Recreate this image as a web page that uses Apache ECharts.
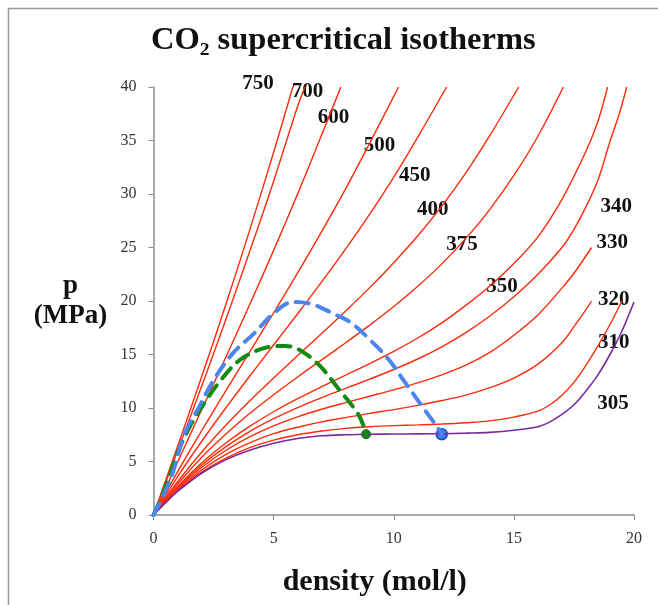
<!DOCTYPE html>
<head>
    <meta charset="utf-8"/>
    <style>
        html,body { height:100%; width:100%; margin:0; padding:0; background:#fff; }
    </style>
</head>
<body>
<div id="chart" style="width:658px;height:605px;"></div>
<script src="https://cdn.jsdelivr.net/npm/echarts@6/dist/echarts.min.js"></script>
<script type="text/javascript">

// isotherms: [density mol/l, pressure MPa]
var iso305 = [[0,0],[0.5,1.15],[1,2.2],[2,3.9],[3,5.15],[4,6.05],[5,6.7],[6,7.15],[7,7.4],[8,7.5],[9,7.55],[10,7.57],[11,7.58],[12,7.6],[13,7.65],[14,7.72],[15,7.92],[16,8.25],[16.5,8.7],[17,9.4],[17.5,10.3],[18,11.6],[18.5,13.1],[19,15],[19.5,17.2],[20,19.9]];
var iso310 = [[0,0],[0.5,1.16],[1,2.25],[2,4.0],[3,5.3],[4,6.3],[5,7.0],[6,7.5],[7,7.85],[8,8.1],[9,8.25],[10,8.35],[11,8.42],[12,8.5],[13,8.62],[14,8.8],[15,9.15],[16,9.7],[16.5,10.3],[17,11.2],[17.5,12.4],[18,14.0],[18.5,15.8],[19,17.8],[19.5,20.0]];
var iso320 = [[0,0],[0.5,1.2],[1,2.35],[2,4.2],[3,5.65],[4,6.75],[5,7.6],[6,8.2],[7,8.7],[8,9.1],[9,9.5],[10,9.85],[11,10.25],[12,10.7],[13,11.2],[14,11.9],[15,12.8],[16,14.1],[17,16.1],[17.5,17.6],[18,19.2],[18.23,20]];
var iso330 = [[0,0],[0.5,1.25],[1,2.46],[2,4.44],[3,6.03],[4,7.3],[5,8.33],[6,9.17],[7,9.88],[8,10.5],[9,11.1],[10,11.7],[11,12.35],[12,13.1],[13,14.0],[14,15.2],[15,16.8],[16,18.7],[17,21.2],[17.6,22.9],[18.23,25]];
var iso340 = [[0,0],[0.5,1.3],[1,2.56],[2,4.65],[3,6.37],[4,7.8],[5,9.0],[6,10.04],[7,10.97],[8,11.84],[9,12.7],[10,13.6],[11,14.58],[12,15.72],[13,17.05],[14,18.6],[15,20.4],[16,22.5],[17,25.0],[17.5,26.7],[18,28.8],[18.5,31.3],[19,34.9],[19.4,37.6],[19.7,40]];
var iso350 = [[0,0],[0.5,1.35],[1,2.65],[2,4.86],[3,6.71],[4,8.28],[5,9.65],[6,10.87],[7,11.99],[8,13.07],[9,14.15],[10,15.29],[11,16.54],[12,17.96],[13,19.59],[14,21.4],[15,23.5],[16,26.0],[17,29.5],[18,34.0],[18.5,36.8],[18.9,40]];
var iso375 = [[0,0],[0.5,1.46],[1,2.88],[2,5.37],[3,7.54],[4,9.48],[5,11.24],[6,12.9],[7,14.5],[8,16.1],[9,17.74],[10,19.48],[11,21.37],[12,23.47],[13,25.85],[14,28.57],[15,31.73],[16,35.4],[17.06,40]];
var iso400 = [[0,0],[0.5,1.58],[1,3.11],[2,5.87],[3,8.36],[4,10.65],[5,12.81],[6,14.9],[7,16.97],[8,19.07],[9,21.25],[10,23.58],[11,26.1],[12,28.87],[13,31.97],[14,35.47],[15.2,40]];
var iso450 = [[0,0],[1,3.57],[2,6.87],[3,9.98],[4,12.97],[5,15.89],[6,18.81],[7,21.79],[8,24.87],[9,28.11],[10,31.57],[11,35.31],[12.2,40]];
var iso500 = [[0,0],[1,4.03],[2,7.86],[3,11.57],[4,15.23],[5,18.9],[6,22.63],[7,26.48],[8,30.5],[9,34.76],[10.2,40]];
var iso600 = [[0,0],[1,4.93],[2,9.81],[3,14.69],[4,19.65],[5,24.73],[6,30.01],[7,35.53],[7.8,40]];
var iso700 = [[0,0],[1,5.98],[2,12.0],[3,18.2],[4,24.6],[5,31.2],[6,38.2],[6.3,40]];
var iso750 = [[0,0],[1,6.4],[2,12.9],[3,19.6],[4,26.6],[5,33.9],[5.8,40]];

// dashed loci
var blueLocus = [[0,0],[0.7,3.3],[1.3,7.6],[1.9,10.1],[2.5,12.6],[3.3,15.1],[4.2,17.0],[5.0,18.85],[5.8,19.9],[6.6,19.7],[7.5,18.8],[8.2,18.0],[9.0,16.4],[9.8,14.5],[10.5,12.3],[11.2,10.1],[11.8,8.25],[12.0,7.55]];
var greenLocus = [[0,0],[0.5,2.6],[1.0,5.8],[1.5,8.2],[2.1,10.4],[2.8,12.6],[3.6,14.5],[4.6,15.6],[5.5,15.8],[6.1,15.4],[6.9,14.0],[7.7,11.8],[8.5,9.5],[8.8,8.0],[8.85,7.55]];
var blueEnd = [[12.0,7.55]];
var greenEnd = [[8.85,7.55]];

// isotherm labels (temperature, label anchor in data units)
var tempNames = ['750','700','600','500','450','400','375','350','340','330','320','310','305'];
var tempLabelAt = [[4.35,40.3],[6.41,39.56],[7.49,37.17],[9.41,34.49],[10.87,31.68],[11.62,28.57],[12.84,25.3],[14.51,21.34],[19.26,28.81],[19.09,25.49],[19.16,20.09],[19.16,16.14],[19.13,10.37]];

var xTicks = [0, 5, 10, 15, 20];
var yTicks = [0, 5, 10, 15, 20, 25, 30, 35, 40];

var redIsos = [iso310, iso320, iso330, iso340, iso350, iso375, iso400, iso450, iso500, iso600, iso700, iso750];

var serif = 'Liberation Serif';
var series = [];

redIsos.forEach(function (d) {
    series.push({
        type: 'line', data: d, showSymbol: false, smooth: 0.35,
        lineStyle: { color: '#ff2a0a', width: 1.4 }, silent: true
    });
});
series.push({
    type: 'line', data: iso305, showSymbol: false, smooth: 0.35,
    lineStyle: { color: '#7a2a9a', width: 1.6 }, silent: true
});
series.push({
    type: 'line', data: greenLocus, showSymbol: false, smooth: 0.35,
    lineStyle: { color: '#138a13', width: 4, type: [13, 9], cap: 'round' }, silent: true
});
series.push({
    type: 'line', data: blueLocus, showSymbol: false, smooth: 0.35,
    lineStyle: { color: '#4a86ee', width: 4, type: [13, 9], cap: 'round' }, silent: true
});
series.push({
    type: 'scatter', data: greenEnd, symbolSize: 9,
    itemStyle: { color: '#138a13', borderColor: '#0b6b0b', borderWidth: 1, opacity: 1 }
});
series.push({
    type: 'scatter', data: blueEnd, symbolSize: 11,
    itemStyle: { color: '#3d7cf0', borderColor: '#1d4fc4', borderWidth: 1.5, opacity: 1 }
});
series.push({
    type: 'scatter', clip: false, symbolSize: 1,
    itemStyle: { color: 'rgba(0,0,0,0)', opacity: 1 },
    data: tempNames.map(function (n, i) { return { name: n, value: tempLabelAt[i] }; }),
    label: {
        show: true, position: 'inside', formatter: '{b}',
        fontFamily: serif, fontWeight: 'bold', fontSize: 21, color: '#111',
        textBorderWidth: 0
    }
});

var myChart = echarts.init(document.getElementById('chart'));
myChart.setOption({
    animation: false,
    backgroundColor: '#fff',
    title: {
        text: 'CO\u2082 supercritical isotherms',
        left: 151, top: 24, padding: 0,
        textStyle: { fontFamily: serif, fontWeight: 'bold', fontSize: 32.5, color: '#111' }
    },
    grid: { left: 153.5, right: 24, top: 87, bottom: 90 },
    xAxis: {
        type: 'value', min: 0, max: 20, interval: 5,
        name: 'density (mol/l)', nameLocation: 'middle', nameGap: 67,
        nameTextStyle: { fontFamily: serif, fontWeight: 'bold', fontSize: 30, color: '#111', verticalAlign: 'middle', padding: [0, 38, 0, 0] },
        axisLine: { lineStyle: { color: '#8c8c8c', width: 1.5 } },
        axisTick: { show: true, length: 5, lineStyle: { color: '#8c8c8c' } },
        splitLine: { show: false },
        axisLabel: {
            margin: 16, fontFamily: serif, fontSize: 16, color: '#333',
            customValues: xTicks
        }
    },
    yAxis: {
        type: 'value', min: 0, max: 40, interval: 5,
        name: 'p\n(MPa)', nameLocation: 'middle', nameGap: 83, nameRotate: 0,
        nameTextStyle: { fontFamily: serif, fontWeight: 'bold', fontSize: 27, color: '#111', align: 'center', verticalAlign: 'middle', lineHeight: 30 },
        axisLine: { show: true, lineStyle: { color: '#8c8c8c', width: 1.5 } },
        axisTick: { show: true, length: 5, lineStyle: { color: '#8c8c8c' } },
        splitLine: { show: false },
        axisLabel: {
            margin: 17, fontFamily: serif, fontSize: 16, color: '#333',
            customValues: yTicks
        }
    },
    graphic: [{
        type: 'polyline', silent: true,
        shape: { points: [[8.5, 605], [8.5, 8.5], [658, 8.5]] },
        style: { stroke: '#9a9a9a', lineWidth: 1.5, fill: null }
    }],
    series: series
});
</script>
</body>
